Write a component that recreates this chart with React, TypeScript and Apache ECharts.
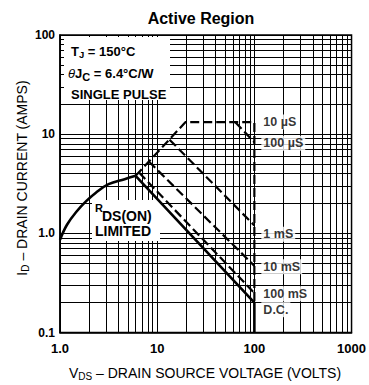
import React, { useEffect, useRef } from "react";
import * as echarts from "echarts";

// Axis ticks
const xTicks = [1, 10, 100, 1000];
const xTickLabels = ["1.0", "10", "100", "1000"];
const yTicks = [0.1, 1, 10, 100];
const yTickLabels = ["0.1", "1.0", "10", "100"];

// Minor log grid lines
const minorX = [2, 3, 4, 5, 6, 7, 8, 9, 20, 30, 40, 50, 60, 70, 80, 90, 200, 300, 400, 500, 600, 700, 800, 900];
const minorY = [0.2, 0.3, 0.4, 0.5, 0.6, 0.7, 0.8, 0.9, 2, 3, 4, 5, 6, 7, 8, 9, 20, 30, 40, 50, 60, 70, 80, 90];

// Curves [VDS (V), ID (A)]
const rdsLimitCurve = [
  [1, 0.86], [1.18, 1.22], [1.49, 1.67], [1.86, 2.11], [2.34, 2.57],
  [3.16, 3.13], [4.62, 3.52], [6.0, 3.8],
];
const dcLine = [[6.0, 3.8], [100, 0.2], [100, 0.1]];
const ms100Line = [[6.5, 4.1], [100, 0.25]];
const ms10Line = [[8.2, 5.3], [100, 0.47]];
const ms1Line = [[13.4, 8.8], [100, 1.2]];
const us100Line = [[63.7, 13.2], [100, 8.3]];
const us10Line = [[6.0, 3.8], [19.5, 13.2], [100, 13.2], [100, 0.2]];

// Pulse labels
const pulseLabels = ["10 µS", "100 µS", "1 mS", "10 mS", "100 mS", "D.C."];
const pulseLabelX = [100, 100, 100, 100, 100, 100];
const pulseLabelY = [13.3, 8.1, 0.98, 0.46, 0.246, 0.17];

const FONT = "'Liberation Sans', Arial, Helvetica, sans-serif";

function tickLabel(v: number, ticks: number[], labels: string[]) {
  let best = 0;
  let bd = Infinity;
  ticks.forEach((t, i) => {
    const d = Math.abs(Math.log10(t) - Math.log10(v));
    if (d < bd) { bd = d; best = i; }
  });
  return bd < 0.01 ? labels[best] : "";
}

const dashed = (data: number[][]) => ({
  type: "line",
  data,
  symbol: "none",
  showSymbol: false,
  silent: true,
  z: 10,
  lineStyle: { color: "#000", width: 2.2, type: [9, 4] },
});

export default function App() {
  const ref = useRef<HTMLDivElement>(null);
  useEffect(() => {
    document.body.style.margin = "0";
    if (!ref.current) return;
    const chart = echarts.init(ref.current, undefined, { renderer: "svg" });
    const option: any = {
      animation: false,
      backgroundColor: "#fff",
      textStyle: { fontFamily: FONT },
      grid: { left: 60, right: 14, top: 35, bottom: 52.5, show: true, borderColor: "#000", borderWidth: 1.5, backgroundColor: "transparent" },
      xAxis: {
        type: "log",
        logBase: 10,
        min: 1,
        max: 1000,
        axisLine: { show: true, lineStyle: { color: "#000", width: 1.5 } },
        axisTick: { show: false },
        splitLine: { show: true, lineStyle: { color: "#000", width: 1 } },
        axisLabel: {
          margin: 9,
          color: "#000",
          fontSize: 13,
          fontWeight: "bold",
          fontFamily: FONT,
          formatter: (v: number) => tickLabel(v, xTicks, xTickLabels),
        },
      },
      yAxis: {
        type: "log",
        logBase: 10,
        min: 0.1,
        max: 100,
        axisLine: { show: true, lineStyle: { color: "#000", width: 1.5 } },
        axisTick: { show: false },
        splitLine: { show: true, lineStyle: { color: "#000", width: 1 } },
        axisLabel: {
          margin: 5,
          color: "#000",
          fontSize: 12,
          fontWeight: "bold",
          fontFamily: FONT,
          formatter: (v: number) => tickLabel(v, yTicks, yTickLabels),
        },
      },
      series: [
        {
          type: "line",
          data: [[1, 0.1]],
          symbol: "none",
          silent: true,
          lineStyle: { width: 0, opacity: 0 },
          z: 1,
          markLine: {
            silent: true,
            z: 1,
            symbol: ["none", "none"],
            label: { show: false },
            emphasis: { disabled: true },
            lineStyle: { color: "#000", width: 1, type: "solid" },
            data: [
              ...minorX.map((v) => ({ xAxis: v })),
              ...minorY.map((v) => ({ yAxis: v })),
            ],
          },
        },
        {
          type: "line",
          data: rdsLimitCurve,
          smooth: 0.4,
          symbol: "none",
          showSymbol: false,
          silent: true,
          z: 10,
          lineStyle: { color: "#000", width: 2.6 },
        },
        {
          type: "line",
          data: dcLine,
          symbol: "none",
          showSymbol: false,
          silent: true,
          z: 10,
          lineStyle: { color: "#000", width: 2.6 },
        },
        dashed(ms100Line),
        dashed(ms10Line),
        dashed(ms1Line),
        dashed(us100Line),
        dashed(us10Line),
        {
          type: "scatter",
          data: pulseLabelX.map((x, i) => [x, pulseLabelY[i]]),
          symbolSize: 0,
          silent: true,
          z: 12,
          label: {
            show: true,
            position: "right",
            distance: 7,
            color: "#000",
            fontSize: 12.5,
            fontWeight: "bold",
            fontFamily: FONT,
            backgroundColor: "#fff",
            padding: [1, 2],
            formatter: (p: any) => pulseLabels[p.dataIndex],
          },
        },
      ],
      graphic: [
        {
          type: "text",
          x: 201,
          y: 18,
          z: 20,
          style: {
            text: "Active Region",
            x: 0,
            y: 0,
            align: "center",
            verticalAlign: "middle",
            font: `bold 16px ${FONT}`,
            fill: "#000",
          },
        },
        {
          type: "rect",
          z: 5,
          shape: { x: 64, y: 37, width: 106, height: 63 },
          style: { fill: "#fff" },
        },
        {
          type: "text",
          z: 6,
          style: {
            x: 71,
            y: 51,
            verticalAlign: "middle",
            text: "T{sub|J} = 150°C",
            font: `bold 13px ${FONT}`,
            fill: "#000",
            rich: { sub: { fontSize: 9.5, fontWeight: "bold", padding: [6, 0, 0, 0], fontFamily: FONT } },
          },
        },
        {
          type: "text",
          z: 6,
          style: {
            x: 68,
            y: 73,
            verticalAlign: "middle",
            text: "{it|θ}J{sub|C} = 6.4°C/W",
            font: `bold 13px ${FONT}`,
            fill: "#000",
            rich: {
              it: { fontStyle: "italic", fontWeight: "normal", fontSize: 13, fontFamily: FONT },
              sub: { fontSize: 11, fontWeight: "bold", padding: [7, 0, 0, 0], fontFamily: FONT },
            },
          },
        },
        {
          type: "text",
          z: 6,
          style: {
            x: 71,
            y: 94,
            verticalAlign: "middle",
            text: "SINGLE PULSE",
            font: `bold 13px ${FONT}`,
            fill: "#000",
          },
        },
        {
          type: "rect",
          z: 5,
          shape: { x: 92, y: 200, width: 68, height: 41 },
          style: { fill: "#fff" },
        },
        {
          type: "text",
          z: 6,
          style: { x: 95, y: 208, verticalAlign: "middle", text: "R", font: `bold 11px ${FONT}`, fill: "#000" },
        },
        {
          type: "text",
          z: 6,
          style: { x: 102, y: 216, verticalAlign: "middle", text: "DS(ON)", font: `bold 14px ${FONT}`, fill: "#000" },
        },
        {
          type: "text",
          z: 6,
          style: { x: 95, y: 231, verticalAlign: "middle", text: "LIMITED", font: `bold 14px ${FONT}`, fill: "#000" },
        },
        {
          type: "text",
          z: 6,
          x: 22,
          y: 178,
          rotation: Math.PI / 2,
          style: {
            x: 0,
            y: 0,
            align: "center",
            verticalAlign: "middle",
            text: "I{sub|D} – DRAIN CURRENT (AMPS)",
            font: `14px ${FONT}`,
            fill: "#000",
            rich: { sub: { fontSize: 10, padding: [7, 0, 0, 0], fontFamily: FONT } },
          },
        },
        {
          type: "text",
          z: 6,
          x: 205,
          y: 373,
          style: {
            x: 0,
            y: 0,
            align: "center",
            verticalAlign: "middle",
            text: "V{sub|DS} – DRAIN SOURCE VOLTAGE (VOLTS)",
            font: `14px ${FONT}`,
            fill: "#000",
            rich: { sub: { fontSize: 10, padding: [7, 0, 0, 0], fontFamily: FONT } },
          },
        },
      ],
    };
    chart.setOption(option);
    return () => chart.dispose();
  }, []);
  return <div ref={ref} style={{ width: 369, height: 385 }} />;
}
